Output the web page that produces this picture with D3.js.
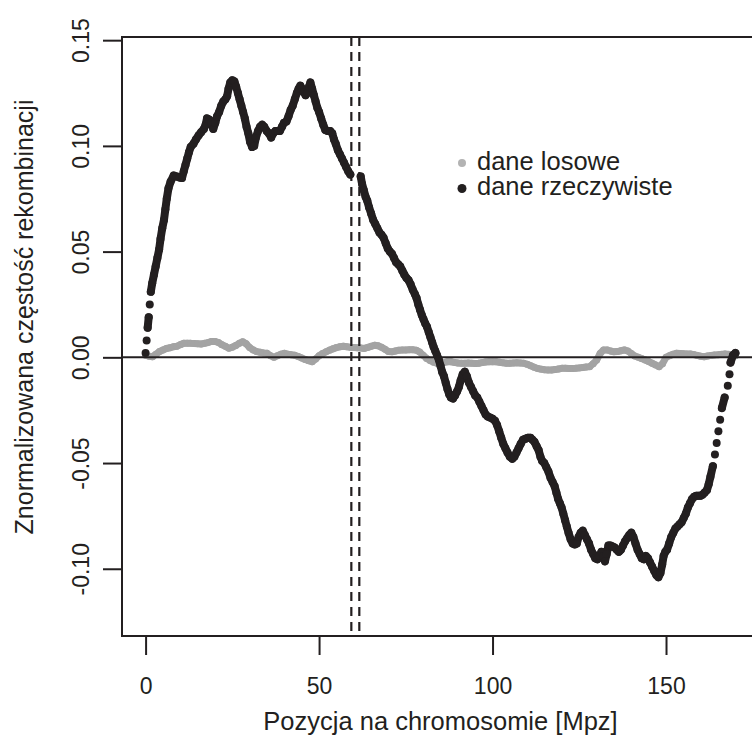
<!DOCTYPE html>
<html>
<head>
<meta charset="utf-8">
<script src="https://cdn.jsdelivr.net/npm/d3@7"></script>
<style>
  body { margin: 0; background: #fff; }
  text { font-family: "Liberation Sans", Arial, Helvetica, sans-serif; fill: #231f20; }
</style>
</head>
<body>
<script>
//chart data

//position on chromosome [Mpz] and value, real data
var realPos = [0,0.3,0.6,0.9,1.2,1.5,1.9,2.4,2.9,3.4,3.9,4.3,4.8,5.3,5.7,6.1,6.6,7.2,8.1,9.0,9.8,10.5,11.0,11.5,12.0,12.5,13.0,13.8,14.5,15.3,16.0,16.8,17.3,17.7,18.3,18.9,19.5,20.1,20.6,21.2,21.8,22.4,23.0,23.5,23.9,24.4,25.0,25.6,26.1,26.6,27.1,27.6,28.1,28.6,29.1,29.6,30.1,30.7,31.3,31.8,32.4,33.0,33.6,34.2,34.9,35.5,36.2,36.8,37.4,38.1,38.7,39.3,39.9,40.6,41.2,41.8,42.4,43.0,43.6,44.1,44.6,45.1,45.6,46.1,46.6,47.1,47.5,48.0,48.5,49.0,49.5,50.0,50.6,51.2,51.8,52.5,53.2,53.8,54.3,54.8,55.4,56.0,56.6,57.2,57.8,58.4,59.0,
    62.0,62.4,62.9,63.4,63.9,64.4,65.0,65.6,66.2,66.8,67.4,68.0,68.6,69.2,69.8,70.4,71.0,71.6,72.2,72.8,73.4,74.0,74.6,75.2,75.8,76.4,77.0,77.6,78.1,78.6,79.1,79.6,80.1,80.6,81.1,81.6,82.1,82.6,83.0,83.5,84.0,84.5,85.0,85.5,86.0,86.5,87.0,87.5,88.0,88.6,89.2,89.8,90.3,90.8,91.4,92.0,92.6,93.2,93.8,94.4,95.0,95.6,96.2,96.8,97.4,98.0,98.6,99.3,100.0,100.7,101.3,101.9,102.5,103.1,103.7,104.3,105.0,105.7,106.3,106.9,107.5,108.1,108.8,109.5,110.2,110.9,111.5,112.1,112.7,113.3,113.8,114.3,114.9,115.5,116.1,116.7,117.3,117.9,118.4,118.9,119.4,119.9,120.4,120.9,121.4,121.9,122.5,123.1,123.7,124.3,124.8,125.4,126.0,126.6,127.2,127.8,128.4,129.0,129.6,130.2,130.8,131.4,131.9,132.4,132.9,133.4,134.0,134.6,135.2,135.8,136.4,137.0,137.6,138.2,138.8,139.4,140.0,140.6,141.2,141.8,142.4,143.0,143.6,144.2,144.8,145.4,146.0,146.6,147.2,147.8,148.4,148.9,149.3,149.8,150.3,150.9,151.5,152.1,152.7,153.3,153.9,154.5,155.1,155.7,156.3,156.9,157.5,158.1,158.7,159.3,159.9,160.5,161.1,161.8,162.3,162.8,163.5,164.1,164.6,165.1,165.6,166.1,166.9,167.8,168.3,168.6,169.3,170.0];
var realVal = [0.002,0.008,0.014,0.019,0.025,0.031,0.035,0.039,0.043,0.047,0.051,0.056,0.061,0.065,0.070,0.075,0.080,0.083,0.086,0.0855,0.085,0.0848,0.088,0.091,0.094,0.097,0.0995,0.101,0.103,0.105,0.1065,0.108,0.110,0.113,0.1125,0.111,0.108,0.111,0.114,0.116,0.119,0.121,0.122,0.1235,0.127,0.130,0.131,0.1305,0.128,0.125,0.122,0.119,0.116,0.113,0.109,0.106,0.102,0.0995,0.100,0.104,0.107,0.109,0.110,0.109,0.107,0.106,0.104,0.106,0.107,0.107,0.107,0.109,0.111,0.1115,0.114,0.117,0.119,0.122,0.125,0.127,0.1285,0.127,0.1255,0.124,0.125,0.128,0.130,0.127,0.124,0.121,0.118,0.116,0.113,0.110,0.1075,0.107,0.107,0.106,0.103,0.101,0.098,0.096,0.094,0.092,0.090,0.088,0.0865,
    0.0855,0.082,0.079,0.076,0.074,0.071,0.068,0.065,0.063,0.061,0.059,0.058,0.0565,0.054,0.0515,0.050,0.049,0.047,0.045,0.044,0.043,0.041,0.039,0.0375,0.0365,0.0345,0.032,0.030,0.028,0.025,0.0225,0.020,0.018,0.016,0.0145,0.012,0.0095,0.007,0.005,0.003,0.001,-0.001,-0.004,-0.007,-0.009,-0.012,-0.015,-0.0175,-0.019,-0.0195,-0.018,-0.016,-0.014,-0.011,-0.008,-0.0068,-0.009,-0.012,-0.014,-0.016,-0.018,-0.019,-0.021,-0.023,-0.025,-0.027,-0.028,-0.0285,-0.029,-0.030,-0.032,-0.035,-0.038,-0.041,-0.043,-0.045,-0.047,-0.048,-0.047,-0.045,-0.043,-0.041,-0.039,-0.0385,-0.038,-0.038,-0.039,-0.040,-0.042,-0.044,-0.047,-0.049,-0.050,-0.052,-0.054,-0.057,-0.059,-0.061,-0.064,-0.067,-0.069,-0.071,-0.074,-0.077,-0.080,-0.083,-0.086,-0.088,-0.0885,-0.088,-0.085,-0.083,-0.082,-0.084,-0.086,-0.088,-0.091,-0.093,-0.095,-0.0955,-0.094,-0.092,-0.094,-0.0965,-0.093,-0.089,-0.089,-0.0895,-0.090,-0.091,-0.092,-0.091,-0.089,-0.087,-0.0855,-0.084,-0.083,-0.085,-0.088,-0.091,-0.093,-0.095,-0.0955,-0.094,-0.095,-0.097,-0.099,-0.101,-0.103,-0.104,-0.102,-0.098,-0.094,-0.092,-0.091,-0.088,-0.085,-0.083,-0.081,-0.080,-0.079,-0.078,-0.076,-0.074,-0.071,-0.069,-0.067,-0.066,-0.0655,-0.0655,-0.0655,-0.065,-0.064,-0.0628,-0.060,-0.0565,-0.0515,-0.046,-0.0405,-0.035,-0.0295,-0.024,-0.019,-0.0135,-0.008,-0.0025,0.001,0.002];

//random data
var randPos = [0,1,2,3,4,5,6,7,8,9,10,11,12,13,14,15,16,17,18,19,20,21,22,23,24,25,26,27,28,29,30,31,32,33,34,35,36,37,38,39,40,41,42,43,44,45,46,47,48,49,50,51,52,53,54,55,56,57,58,59,60,61,62,63,64,65,66,67,68,69,70,71,72,73,74,75,76,77,78,79,80,81,82,83,84,85,86,87,88,89,90,91,92,93,94,95,96,97,98,99,100,101,102,103,104,105,106,107,108,109,110,111,112,113,114,115,116,117,118,119,120,121,122,123,124,125,126,127,128,129,130,131,132,133,134,135,136,137,138,139,140,141,142,143,144,145,146,147,148,149,150,151,152,153,154,155,156,157,158,159,160,161,162,163,164,165,166,167,168,169,170];
var randVal = [0.001,0.0005,0.0003,0.0015,0.0028,0.0035,0.0042,0.0045,0.005,0.0052,0.006,0.0066,0.0066,0.0066,0.0065,0.0064,0.0063,0.0066,0.007,0.0075,0.0075,0.007,0.006,0.0052,0.0043,0.0048,0.0056,0.0066,0.0074,0.0064,0.0046,0.0035,0.0027,0.0024,0.0021,0.0019,0.0008,0,0.0008,0.0015,0.0019,0.0015,0.0012,0.001,0.0004,-0.0003,-0.001,-0.0016,-0.0021,-0.0008,0.0008,0.0018,0.0026,0.0034,0.004,0.0046,0.005,0.0052,0.005,0.0048,0.0046,0.0045,0.0044,0.0042,0.0047,0.0052,0.0057,0.0055,0.0048,0.0038,0.0028,0.0026,0.003,0.0034,0.0035,0.0035,0.0036,0.0036,0.0034,0.0025,0.001,-0.0005,-0.0015,-0.0023,-0.0028,-0.0027,-0.0024,-0.0021,-0.0021,-0.0024,-0.0027,-0.0028,-0.0028,-0.0027,-0.0028,-0.0029,-0.0028,-0.0025,-0.0022,-0.0021,-0.0021,-0.0021,-0.0023,-0.0026,-0.0028,-0.0028,-0.0027,-0.0026,-0.0027,-0.0028,-0.0033,-0.004,-0.0047,-0.0053,-0.0056,-0.0059,-0.006,-0.006,-0.0058,-0.0055,-0.0052,-0.0052,-0.0053,-0.0053,-0.0052,-0.005,-0.0048,-0.0046,-0.0044,-0.003,-0.0013,0.0018,0.0035,0.0035,0.003,0.0026,0.0027,0.0031,0.0035,0.003,0.0018,0.0006,0,-0.0006,-0.0013,-0.002,-0.0028,-0.0036,-0.0044,-0.003,0,0.0008,0.0014,0.0019,0.0018,0.0017,0.0016,0.0016,0.0013,0.0009,0.0005,0.0003,0.0006,0.0009,0.0011,0.0012,0.0014,0.0016,0.0014,0.001,0.0008];

//centromere borders (dashed lines)
var centromere = [59.3, 61.6];

//axis ticks and labels
var xTicks = [0, 50, 100, 150];
var yTicks = [-0.10, -0.05, 0.00, 0.05, 0.10, 0.15];
var legendLabels = ["dane losowe", "dane rzeczywiste"];
var xTitle = "Pozycja na chromosomie [Mpz]";
var yTitle = "Znormalizowana częstość rekombinacji";

window.onload = drawChart();

function drawChart(){

    var width = 752,
        height = 742;
    var ink = "#231f20",
        grey = "#a3a3a3";

    //plot frame (right edge lies outside the picture)
    var left = 122, right = 759, top = 37, bottom = 636;

    var svg = d3.select("body")
        .append("svg")
        .attr("width", width)
        .attr("height", height)
        .style("display", "block");

    svg.append("rect")
        .attr("width", width)
        .attr("height", height)
        .style("fill", "#fff");

    var x = d3.scaleLinear()
        .domain([-6.8, 176.8])
        .range([left, right]);

    var y = d3.scaleLinear()
        .domain([-0.1318, 0.1515])
        .range([bottom, top]);

    //turn arrays into point lists
    var real = realPos.map(function(d, i){ return [d, realVal[i]]; });
    var rand = randPos.map(function(d, i){ return [d, randVal[i]]; });

    //split a series where the dots no longer touch (steep bits, centromere gap)
    function segments(pts){
        var segs = [], cur = [pts[0]];
        for (var i = 1; i < pts.length; i++){
            var dx = Math.abs(x(pts[i][0]) - x(pts[i-1][0])),
                dy = Math.abs(y(pts[i][1]) - y(pts[i-1][1])),
                dist = Math.sqrt(dx*dx + dy*dy);
            var gap = (pts[i][0] - pts[i-1][0]) > 2.5 || (dist > 11 && dx < 0.35*dy);
            if (gap){ segs.push(cur); cur = []; }
            cur.push(pts[i]);
        }
        segs.push(cur);
        return segs;
    }

    var line = d3.line()
        .x(function(d){ return x(d[0]); })
        .y(function(d){ return y(d[1]); });

    function drawSeries(pts, color, r, cls){
        var g = svg.append("g").attr("class", cls);
        g.selectAll("path")
            .data(segments(pts).filter(function(s){ return s.length > 1; }))
            .enter()
            .append("path")
            .attr("d", line)
            .style("fill", "none")
            .style("stroke", color)
            .style("stroke-width", 2*r)
            .style("stroke-linejoin", "round")
            .style("stroke-linecap", "round");
        g.selectAll("circle")
            .data(pts)
            .enter()
            .append("circle")
            .attr("cx", function(d){ return x(d[0]); })
            .attr("cy", function(d){ return y(d[1]); })
            .attr("r", r)
            .style("fill", color);
    }

    //grey random series first, then zero line, then real data
    drawSeries(rand, grey, 3.5, "rand");

    svg.append("line")
        .attr("x1", left).attr("x2", right)
        .attr("y1", y(0)).attr("y2", y(0))
        .style("stroke", ink)
        .style("stroke-width", 2);

    drawSeries(real, ink, 4, "real");

    //centromere lines
    svg.selectAll(".centro")
        .data(centromere)
        .enter()
        .append("line")
        .attr("class", "centro")
        .attr("x1", function(d){ return x(d); })
        .attr("x2", function(d){ return x(d); })
        .attr("y1", top)
        .attr("y2", bottom)
        .style("stroke", ink)
        .style("stroke-width", 2.2)
        .style("stroke-dasharray", "9,6");

    //box
    svg.append("rect")
        .attr("x", left)
        .attr("y", top)
        .attr("width", right - left)
        .attr("height", bottom - top)
        .style("fill", "none")
        .style("stroke", ink)
        .style("stroke-width", 2);

    //x axis
    var xAxis = svg.append("g")
        .attr("transform", "translate(0," + bottom + ")")
        .call(d3.axisBottom(x).tickValues(xTicks).tickSize(19).tickFormat(d3.format("d")));
    xAxis.select(".domain").remove();
    xAxis.selectAll("line").style("stroke", ink).style("stroke-width", 2);
    xAxis.selectAll("text")
        .attr("y", 58)
        .attr("dy", 0)
        .style("font-size", "23px")
        .style("fill", ink)
        .style("font-family", "'Liberation Sans', Arial, sans-serif");

    //y axis with rotated labels like R
    var yAxis = svg.append("g")
        .attr("transform", "translate(" + left + ",0)")
        .call(d3.axisLeft(y).tickValues(yTicks).tickSize(19).tickFormat(function(d){ return d.toFixed(2); }));
    yAxis.select(".domain").remove();
    yAxis.selectAll("line").style("stroke", ink).style("stroke-width", 2);
    yAxis.selectAll("text")
        .attr("x", 0)
        .attr("dy", 0)
        .attr("transform", "translate(-33,0) rotate(-90)")
        .attr("text-anchor", "middle")
        .style("font-size", "23px")
        .style("fill", ink)
        .style("font-family", "'Liberation Sans', Arial, sans-serif");

    //axis titles
    svg.append("text")
        .attr("x", (left + right)/2)
        .attr("y", 730)
        .attr("text-anchor", "middle")
        .style("font-size", "25.5px")
        .text(xTitle);

    svg.append("text")
        .attr("transform", "translate(33,317) rotate(-90)")
        .attr("text-anchor", "middle")
        .style("font-size", "25px")
        .text(yTitle);

    //legend
    var legend = svg.selectAll(".legend")
        .data(legendLabels)
        .enter()
        .append("g")
        .attr("class", "legend")
        .attr("transform", function(d, i){ return "translate(462," + (163 + i*25.5) + ")"; });

    legend.append("circle")
        .attr("r", function(d, i){ return i ? 4.5 : 4; })
        .style("fill", function(d, i){ return i ? ink : "#b3b3b3"; });

    legend.append("text")
        .attr("x", 15)
        .attr("y", 6.5)
        .style("font-size", "25.5px")
        .text(function(d){ return d; });
};
</script>
</body>
</html>
